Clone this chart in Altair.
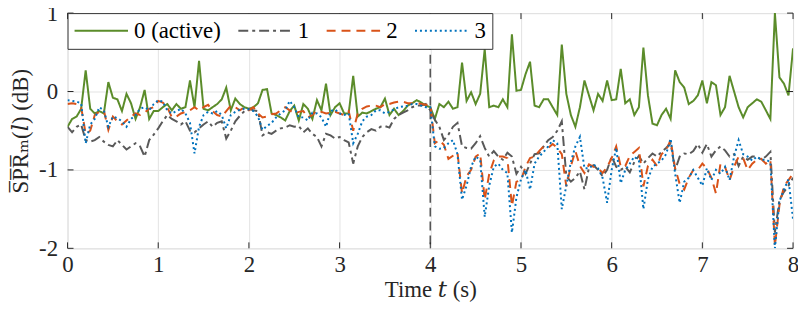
import altair as alt
import pandas as pd

# time axis (s), 0.05 s steps
time = [round(i * 0.05, 2) for i in range(161)]

series_labels = ["0 (active)", "1", "2", "3"]

green = [
    -0.45, -0.35, -0.32, -0.22, 0.27, -0.22, -0.28, -0.25, -0.28, 0.12, -0.08, -0.10, -0.25, -0.03, -0.15, -0.35, -0.20, 0.02, -0.35, -0.25,
    -0.25, -0.20, -0.16, -0.24, -0.16, -0.22, -0.20, 0.14, -0.20, 0.39, -0.22, -0.24, -0.20, -0.16, -0.10, 0.05, -0.24, -0.09, -0.16, -0.20,
    -0.22, -0.20, -0.15, 0.02, 0.03, -0.28, -0.30, -0.33, -0.37, -0.25, -0.18, -0.37, -0.16, -0.22, -0.35, -0.11, -0.24, 0.10, -0.30, -0.20,
    -0.15, -0.28, -0.28, 0.20, -0.32, -0.27, -0.28, -0.25, -0.22, -0.20, -0.09, -0.30, -0.22, -0.30, -0.25, -0.18, -0.15, -0.11, -0.14, -0.18,
    -0.20, -0.35, -0.16, -0.20, -0.13, -0.22, -0.20, 0.37, -0.12, -0.01, -0.16, -0.03, 0.54, -0.20, -0.18, -0.20, -0.10, -0.20, 0.73, 0.01,
    0.02, 0.22, 0.38, -0.18, -0.20, -0.10, -0.10, -0.20, -0.30, 0.60, -0.03, -0.30, -0.45, -0.20, 0.14, -0.05, -0.24, -0.03, -0.12, 0.14,
    -0.11, -0.10, 0.29, -0.15, -0.10, -0.30, -0.20, 0.56, -0.05, -0.41, -0.43, -0.30, -0.22, -0.35, 0.27, 0.12, 0.05, -0.16, -0.12, -0.05,
    0.14, -0.15, 0.12, 0.08, -0.30, -0.20, 0.20, 0.00, -0.20, -0.33, -0.20, -0.15, -0.10, -0.13, -0.24, -0.35, 1.00, 0.18, 0.10, -0.05,
    0.55,
]

gray = [
    -0.45, -0.52, -0.45, -0.42, -0.62, -0.64, -0.62, -0.58, -0.64, -0.68, -0.70, -0.62, -0.68, -0.74, -0.70, -0.66, -0.70, -0.83, -0.62, -0.55,
    -0.47, -0.38, -0.30, -0.35, -0.38, -0.42, -0.38, -0.50, -0.52, -0.47, -0.42, -0.38, -0.45, -0.40, -0.38, -0.60, -0.50, -0.38, -0.31, -0.25,
    -0.22, -0.24, -0.25, -0.56, -0.52, -0.54, -0.50, -0.47, -0.46, -0.43, -0.45, -0.44, -0.52, -0.47, -0.54, -0.58, -0.70, -0.54, -0.56, -0.60,
    -0.58, -0.62, -0.65, -0.92, -0.70, -0.58, -0.52, -0.48, -0.50, -0.45, -0.44, -0.46, -0.35, -0.30, -0.27, -0.24, -0.20, -0.18, -0.18, -0.16,
    -0.24, -0.36, -0.45, -0.62, -0.55, -0.45, -0.40, -0.70, -0.72, -0.73, -0.66, -0.57, -0.72, -0.83, -0.76, -0.83, -0.87, -0.78, -0.83, -1.05,
    -0.96, -1.05, -0.92, -0.80, -0.79, -0.70, -0.62, -0.58, -0.50, -0.38, -1.08, -1.15, -1.10, -1.02, -1.25, -0.97, -0.94, -1.00, -1.08, -1.00,
    -0.83, -0.96, -1.00, -0.96, -1.03, -0.90, -0.82, -0.92, -0.85, -0.79, -0.83, -0.77, -0.72, -0.66, -1.00, -0.83, -0.79, -0.80, -0.76, -0.67,
    -0.78, -0.67, -0.83, -0.75, -0.70, -0.75, -0.83, -0.80, -0.95, -0.83, -0.87, -0.83, -0.83, -0.87, -0.83, -0.77, -1.80, -1.38, -1.28, -1.20,
    -1.10,
]

orange = [
    -0.16, -0.15, -0.16, -0.20, -0.54, -0.50, -0.30, -0.26, -0.24, -0.49, -0.32, -0.38, -0.42, -0.37, -0.32, -0.28, -0.30, -0.27, -0.22, -0.20,
    -0.12, -0.14, -0.20, -0.33, -0.32, -0.28, -0.26, -0.24, -0.20, -0.24, -0.20, -0.17, -0.25, -0.30, -0.32, -0.25, -0.18, -0.20, -0.24, -0.20,
    -0.24, -0.20, -0.28, -0.33, -0.32, -0.29, -0.28, -0.24, -0.20, -0.24, -0.28, -0.26, -0.25, -0.33, -0.30, -0.24, -0.26, -0.28, -0.27, -0.26,
    -0.28, -0.30, -0.25, -0.50, -0.28, -0.22, -0.19, -0.18, -0.18, -0.20, -0.16, -0.16, -0.14, -0.13, -0.13, -0.15, -0.15, -0.15, -0.16, -0.17,
    -0.17, -0.66, -0.62, -0.68, -0.86, -0.82, -0.78, -1.30, -1.08, -1.00, -0.83, -0.79, -1.38, -1.05, -0.88, -0.83, -0.83, -0.85, -1.46, -1.15,
    -1.13, -0.96, -0.85, -0.83, -0.76, -0.70, -0.72, -0.67, -0.72, -0.80, -1.21, -0.95, -0.76, -0.95, -1.04, -0.93, -0.96, -0.98, -1.04, -0.96,
    -0.85, -0.70, -0.96, -0.95, -0.82, -0.77, -0.72, -1.21, -0.95, -0.87, -0.95, -0.80, -0.75, -0.62, -0.98, -1.18, -1.25, -1.10, -1.00, -1.00,
    -0.92, -0.98, -1.10, -1.30, -0.92, -0.96, -1.13, -0.96, -0.83, -0.85, -1.00, -0.92, -0.87, -0.86, -0.92, -0.87, -1.97, -1.45, -1.21, -1.13,
    -1.05,
]

blue = [
    -0.11, -0.12, -0.13, -0.15, -0.66, -0.42, -0.35, -0.20, -0.24, -0.45, -0.32, -0.34, -0.38, -0.45, -0.35, -0.30, -0.22, -0.20, -0.24, -0.16,
    -0.11, -0.13, -0.24, -0.28, -0.25, -0.22, -0.28, -0.40, -0.79, -0.45, -0.30, -0.26, -0.28, -0.25, -0.30, -0.47, -0.30, -0.26, -0.23, -0.22,
    -0.23, -0.25, -0.32, -0.49, -0.44, -0.40, -0.33, -0.28, -0.24, -0.12, -0.20, -0.33, -0.33, -0.37, -0.27, -0.28, -0.33, -0.45, -0.25, -0.23,
    -0.28, -0.30, -0.28, -0.66, -0.54, -0.38, -0.32, -0.30, -0.24, -0.24, -0.28, -0.26, -0.23, -0.20, -0.19, -0.18, -0.16, -0.16, -0.18, -0.20,
    -0.20, -0.70, -0.73, -0.72, -0.66, -0.62, -0.80, -1.38, -1.20, -0.96, -0.83, -0.87, -1.60, -1.20, -0.96, -0.92, -1.00, -1.04, -1.80, -1.35,
    -1.12, -1.00, -1.25, -0.92, -0.83, -0.77, -0.70, -0.62, -0.66, -1.50, -1.20, -0.90, -0.70, -0.58, -0.98, -0.98, -0.93, -0.98, -1.10, -1.42,
    -1.00, -0.72, -1.17, -1.00, -0.92, -0.83, -0.88, -1.50, -1.12, -0.96, -0.92, -0.88, -0.80, -0.60, -1.05, -1.42, -1.15, -1.10, -1.00, -1.10,
    -1.20, -0.98, -1.13, -1.00, -1.05, -0.96, -1.13, -0.83, -0.62, -0.80, -0.83, -0.88, -0.83, -0.87, -0.87, -0.90, -2.00, -1.40, -1.25, -1.12,
    -1.63,
]

x_ticks = [0, 1, 2, 3, 4, 5, 6, 7, 8]
y_ticks = [-2, -1, 0, 1]
event_time = [4]

colors = ["#5B8C2A", "#595959", "#D95319", "#0072BD"]
dashes = [[1, 0], [10, 4, 3, 4], [9, 6], [2, 3]]

FONT = "Liberation Serif, DejaVu Serif, serif"
FS = 23
W, H = 731, 237

rows = []
for lab, vals in zip(series_labels, [green, gray, orange, blue]):
    for t, v in zip(time, vals):
        rows.append({"t": t, "v": v, "s": lab})
df = pd.DataFrame(rows)

xs = alt.Scale(domain=[0, 8], nice=False, zero=False)
ys = alt.Scale(domain=[-2, 1], nice=False, zero=False)

x_axis = alt.Axis(
    values=x_ticks, format="d", ticks=False, domain=False, grid=True,
    gridColor="#e3e3e3", gridWidth=1, labelFont=FONT, labelFontSize=FS,
    labelColor="#262626", labelPadding=5, labelFlush=False,
    title="Time 𝑡 (s)", titleFont=FONT, titleFontSize=FS, titleFontWeight="normal",
    titleColor="#262626", titleBaseline="alphabetic", titleY=49,
)
y_axis = alt.Axis(
    values=y_ticks, labelExpr="'' + datum.value", ticks=False, domain=False, grid=True,
    gridColor="#e3e3e3", gridWidth=1, labelFont=FONT, labelFontSize=FS,
    labelColor="#262626", labelPadding=10, labelFlush=False,
    title="S̅P̅R̅ₘ(𝑙)  (dB)", titleFont=FONT, titleFontSize=FS, titleFontWeight="normal",
    titleColor="#262626", titleBaseline="alphabetic", titleX=-40,
)

leg = alt.Legend(
    orient="top-left", direction="horizontal", offset=0, padding=6,
    fillColor="white", strokeColor="#333333", symbolType="stroke",
    symbolSize=2900, symbolStrokeWidth=2, labelFont=FONT, labelFontSize=FS,
    labelColor="black", columnPadding=16, labelOffset=5, clipHeight=23,
    labelLimit=400, zindex=1,
)

lines = alt.Chart(df).mark_line(strokeWidth=2, clip=True).encode(
    x=alt.X("t:Q", scale=xs, axis=x_axis),
    y=alt.Y("v:Q", scale=ys, axis=y_axis),
    color=alt.Color("s:N", title=None, sort=series_labels,
                    scale=alt.Scale(domain=series_labels, range=colors), legend=leg),
    strokeDash=alt.StrokeDash("s:N", title=None, sort=series_labels,
                              scale=alt.Scale(domain=series_labels, range=dashes), legend=leg),
)

ev = alt.Chart(pd.DataFrame({"t": event_time})).mark_rule(
    color="#555555", strokeWidth=1.6, strokeDash=[9, 5]
).encode(x=alt.X("t:Q", scale=xs))

xt = pd.DataFrame({"t": x_ticks})
yt = pd.DataFrame({"v": y_ticks})
tick_style = dict(color="#262626", strokeWidth=1)
t_bottom = alt.Chart(xt).mark_rule(**tick_style).encode(
    x=alt.X("t:Q", scale=xs), y=alt.value(H - 6), y2=alt.value(H))
t_top = alt.Chart(xt).mark_rule(**tick_style).encode(
    x=alt.X("t:Q", scale=xs), y=alt.value(0), y2=alt.value(6))
t_left = alt.Chart(yt).mark_rule(**tick_style).encode(
    y=alt.Y("v:Q", scale=ys), x=alt.value(0), x2=alt.value(6))
t_right = alt.Chart(yt).mark_rule(**tick_style).encode(
    y=alt.Y("v:Q", scale=ys), x=alt.value(W - 6), x2=alt.value(W))

chart = alt.layer(ev, lines, t_bottom, t_top, t_left, t_right).properties(
    width=W, height=H,
    autosize=alt.AutoSizeParams(type="none"),
    padding={"left": 60, "top": 4, "right": 5, "bottom": 60},
).configure_view(
    stroke="#333333", strokeWidth=1
).configure_legend(
    cornerRadius=0,
).configure(background="white")

chart.save("out.html", embed_options={"renderer": "svg", "actions": False})
